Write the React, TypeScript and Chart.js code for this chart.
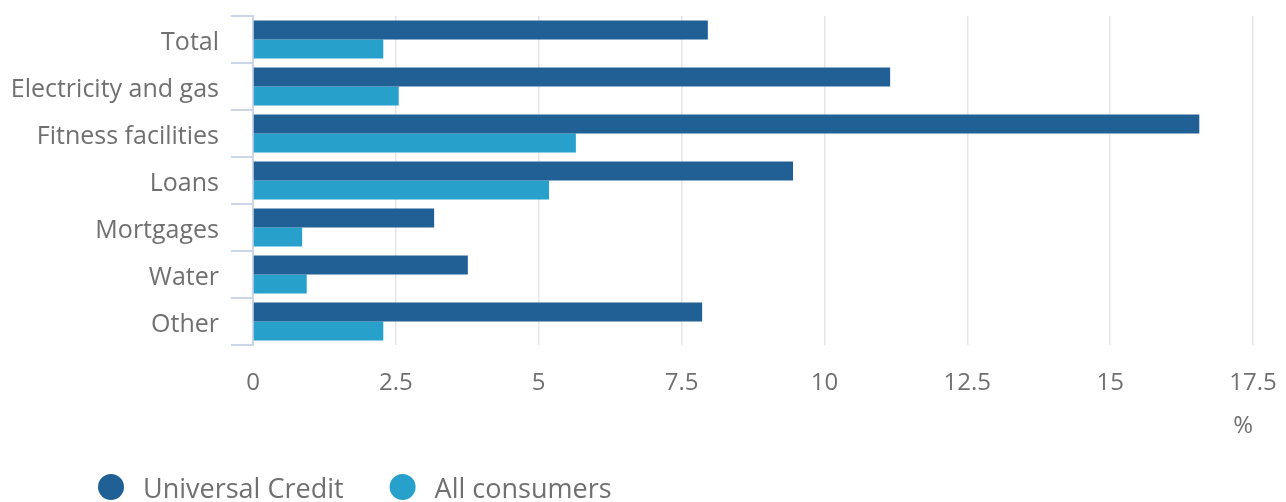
import React, { useEffect, useRef } from "react";
import { Chart, registerables } from "chart.js";

Chart.register(...registerables);

const categories = [
  "Total",
  "Electricity and gas",
  "Fitness facilities",
  "Loans",
  "Mortgages",
  "Water",
  "Other",
];
const universalCredit = [7.96, 11.15, 16.56, 9.45, 3.17, 3.76, 7.86];
const allConsumers = [2.28, 2.55, 5.65, 5.18, 0.86, 0.94, 2.28];
const seriesNames = ["Universal Credit", "All consumers"];
const seriesColors = ["#206095", "#27a0cc"];
const xMax = 17.5;
const xStep = 2.5;
const xTitle = "%";

const FONT = "'Open Sans', sans-serif";
const TEXT = "#707070";

const legendPlugin = {
  id: "customLegend",
  afterDraw(chart: any) {
    const ctx = chart.ctx;
    const size = 27;
    let x = 98;
    const cy = 490;
    ctx.save();
    ctx.font = `${size}px ${FONT}`;
    ctx.textBaseline = "middle";
    ctx.textAlign = "left";
    chart.data.datasets.forEach((ds: any) => {
      const r = 13;
      ctx.beginPath();
      ctx.fillStyle = ds.backgroundColor;
      ctx.arc(x + r, cy - 3, r, 0, Math.PI * 2);
      ctx.fill();
      const tx = x + 2 * r + 19;
      ctx.fillStyle = TEXT;
      ctx.fillText(ds.label, tx, cy);
      x = tx + ctx.measureText(ds.label).width + 46;
    });
    ctx.restore();
  },
};

export default function App() {
  const ref = useRef<HTMLCanvasElement>(null);

  useEffect(() => {
    if (!ref.current) return;
    const chart = new Chart(ref.current, {
      type: "bar",
      data: {
        labels: categories,
        datasets: [
          {
            label: seriesNames[0],
            data: universalCredit,
            backgroundColor: seriesColors[0],
            categoryPercentage: 0.81,
            barPercentage: 1,
          },
          {
            label: seriesNames[1],
            data: allConsumers,
            backgroundColor: seriesColors[1],
            categoryPercentage: 0.81,
            barPercentage: 1,
          },
        ],
      },
      options: {
        indexAxis: "y",
        responsive: false,
        animation: false,
        layout: { padding: { top: 16, right: 33, left: 0, bottom: 0 } },
        plugins: {
          legend: { display: false },
          tooltip: { enabled: false },
        },
        scales: {
          x: {
            min: 0,
            max: xMax,
            ticks: {
              stepSize: xStep,
              color: TEXT,
              padding: 24,
              font: { family: FONT, size: 24 },
            },
            grid: { color: "#e6e6e6", lineWidth: 1.5, drawTicks: false },
            border: { display: false },
            title: {
              display: true,
              text: xTitle,
              align: "end",
              color: TEXT,
              font: { family: FONT, size: 24 },
              padding: { top: 0, bottom: 61 },
            },
            afterFit(scale: any) {
              scale.height = 157;
              scale.paddingLeft = 0;
              scale.paddingRight = 0;
            },
          },
          y: {
            ticks: {
              color: TEXT,
              padding: 12,
              labelOffset: 3,
              font: { family: FONT, size: 25 },
            },
            grid: {
              offset: true,
              drawOnChartArea: false,
              tickLength: 22,
              color: "#ccd6eb",
              lineWidth: 2,
            },
            border: { color: "#ccd6eb", width: 2 },
            afterFit(scale: any) {
              scale.width = 253;
              scale.paddingTop = 0;
              scale.paddingBottom = 0;
            },
          },
        },
      },
      plugins: [legendPlugin],
    });
    return () => chart.destroy();
  }, []);

  return (
    <div style={{ position: "fixed", left: 0, top: 0, width: 1286, height: 502, background: "#fff" }}>
      <canvas ref={ref} width={1286} height={502} />
    </div>
  );
}
